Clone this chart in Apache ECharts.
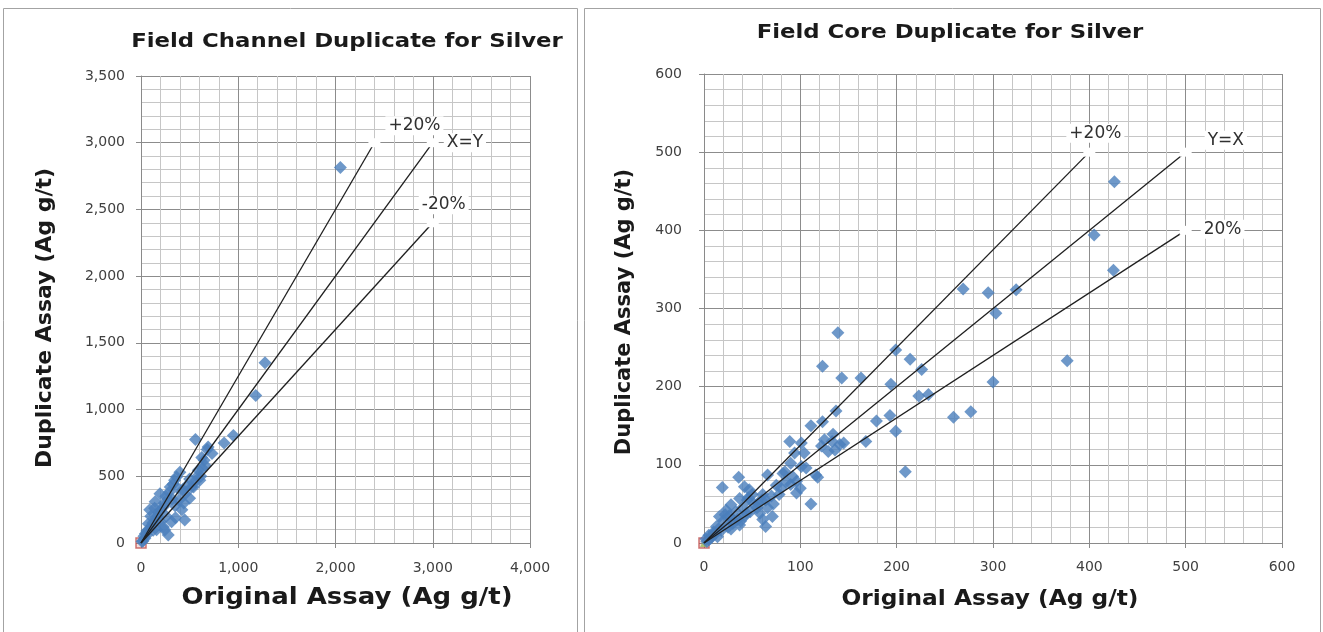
<!DOCTYPE html>
<html>
<head>
<meta charset="utf-8">
<script src="https://cdn.jsdelivr.net/npm/echarts@6/dist/echarts.min.js"></script>
<style>
  html, body { margin: 0; padding: 0; background: #ffffff; }
  #chart { width: 1323px; height: 632px; }
</style>
</head>
<body>
<div id="chart"></div>
<script>
// ---- text ----
const channelTitle = 'Field Channel Duplicate for Silver';
const coreTitle = 'Field Core Duplicate for Silver';
const xAxisTitle = 'Original Assay (Ag g/t)';
const yAxisTitle = 'Duplicate Assay (Ag g/t)';

// ---- channel samples: [original, duplicate] in Ag g/t ----
const channelPairs = [
  [2050, 2815], [1275, 1350], [1180, 1105], [950, 805], [855, 750], [560, 775],
  [690, 720], [730, 670], [625, 640], [660, 580], [615, 500], [590, 545],
  [555, 460], [520, 420], [500, 335], [455, 370], [420, 250], [400, 530],
  [365, 495], [345, 470], [300, 420], [330, 440], [290, 380], [275, 330],
  [255, 350], [230, 270], [240, 300], [200, 250], [195, 370], [180, 230],
  [145, 310], [140, 260], [120, 150], [100, 200], [90, 250], [75, 145],
  [60, 90], [45, 70], [40, 35], [30, 50], [20, 15], [10, 12],
  [315, 160], [355, 190], [280, 60], [245, 97], [160, 100], [200, 160],
  [125, 95], [260, 200], [440, 300], [540, 420], [580, 500], [630, 560],
  [605, 470], [470, 430], [390, 320], [350, 280], [450, 172], [230, 120],
  [170, 200], [110, 130], [60, 60], [80, 100], [150, 190], [320, 330],
  [500, 480], [650, 620], [680, 700], [430, 400], [380, 410]
];

// ---- core samples: [original, duplicate] in Ag g/t ----
const corePairs = [
  [426, 462], [405, 394], [425, 349], [269, 325], [295, 320], [324, 324],
  [303, 294], [377, 233], [300, 206], [277, 168], [259, 161],
  [139, 269], [199, 247], [214, 235], [123, 226], [226, 222], [143, 211],
  [163, 211], [194, 203], [223, 188], [233, 190],
  [137, 169], [193, 163], [179, 156], [199, 143], [168, 130], [209, 91],
  [111, 150], [123, 155], [89, 130], [101, 128], [125, 132], [134, 139],
  [141, 126], [129, 117], [122, 124], [136, 119], [145, 128], [133, 130],
  [94, 115], [90, 102], [101, 98], [104, 115], [106, 96], [116, 87],
  [118, 84], [82, 89], [96, 79], [96, 64], [111, 50], [100, 70], [92, 85],
  [36, 84], [19, 71], [66, 87], [84, 91], [75, 74], [78, 62], [61, 62],
  [56, 51], [37, 57], [28, 49], [23, 42], [44, 38], [61, 30], [64, 21],
  [71, 34], [37, 23], [30, 30], [16, 34], [13, 21], [5, 10], [2, 5],
  [42, 72], [47, 68], [50, 62], [45, 55], [52, 50], [40, 45], [33, 40],
  [26, 35], [20, 28], [22, 36], [30, 25], [15, 18], [10, 14], [8, 9],
  [12, 12], [18, 16], [25, 20], [35, 30], [48, 40], [55, 45], [60, 55],
  [70, 60], [80, 70], [85, 78], [72, 50], [66, 45], [90, 75], [5, 4],
  [3, 2], [7, 6], [9, 11], [14, 8], [28, 18], [38, 28], [42, 34],
  [58, 38], [64, 55], [46, 58]
];

// ---- reference lines through the origin: [label, end original, end duplicate] ----
const channelLines = [['+20%', 2400, 3000], ['X=Y', 3000, 3000], ['-20%', 3000, 2400]];
const coreLines = [['+20%', 400, 500], ['Y=X', 500, 500], ['20%', 500, 400]];

// ---- axis ranges: [min, max, major step] ----
const channelXRange = [0, 4000, 1000];
const channelYRange = [0, 3500, 500];
const coreXRange = [0, 600, 100];
const coreYRange = [0, 600, 100];

const FONT = 'DejaVu Sans, Verdana, sans-serif';
const BLUE = '#4a7ebb';

const withComma = v => Number(v).toLocaleString('en-US');

function valueAxis(range, gridIndex, fmt, margin) {
  return {
    type: 'value', gridIndex,
    min: range[0], max: range[1], interval: range[2],
    axisLine: { show: true, onZero: false, lineStyle: { color: '#8a8a8a', width: 1 } },
    axisTick: { show: true, inside: false, length: 5, lineStyle: { color: '#8a8a8a' } },
    axisLabel: { color: '#404040', fontFamily: FONT, fontSize: 14, formatter: fmt, margin },
    splitLine: { show: true, lineStyle: { color: '#8c8c8c', width: 1 } },
    minorTick: { show: false, splitNumber: 5 },
    minorSplitLine: { show: true, lineStyle: { color: '#c6c6c6', width: 1 } }
  };
}

function refLine(line, gi, offset) {
  return {
    type: 'line', xAxisIndex: gi, yAxisIndex: gi,
    silent: true, animation: false, z: 4,
    symbol: 'rect', symbolSize: [12, 9],
    itemStyle: { color: '#ffffff' },
    lineStyle: { color: '#1f1f1f', width: 1.3 },
    data: [
      { value: [0, 0], symbolSize: 0 },
      {
        value: [line[1], line[2]],
        label: {
          show: true, formatter: line[0], position: 'right', offset,
          color: '#303030', fontFamily: FONT, fontSize: 17,
          backgroundColor: '#ffffff', padding: [1, 3]
        }
      }
    ]
  };
}

function scatter(pairs, gi) {
  return {
    type: 'scatter', xAxisIndex: gi, yAxisIndex: gi, z: 3,
    symbol: 'diamond', symbolSize: 13,
    itemStyle: { color: BLUE },
    data: pairs
  };
}

function originMarks(gi, withTriangle) {
  const out = [{
    type: 'scatter', xAxisIndex: gi, yAxisIndex: gi, z: 2,
    symbol: 'rect', symbolSize: 10,
    itemStyle: { color: 'rgba(192,80,77,0.25)', borderColor: '#c0504d', borderWidth: 1.5 },
    data: [[0, 0]]
  }];
  if (withTriangle) {
    out.push({
      type: 'scatter', xAxisIndex: gi, yAxisIndex: gi, z: 2,
      symbol: 'triangle', symbolSize: 8,
      itemStyle: { color: '#9bbb59' },
      data: [[0, 0]]
    });
  }
  return out;
}

// bold centred caption, optionally widened and rotated
function caption(text, x, y, fontSize, scaleX, vertical) {
  return {
    type: 'text', x, y, scaleX: vertical ? 1 : scaleX,
    rotation: vertical ? Math.PI / 2 : 0, silent: true,
    style: {
      text, fontFamily: FONT, fontSize, fontWeight: 'bold', fill: '#1a1a1a',
      textAlign: 'center', textVerticalAlign: 'middle'
    }
  };
}

const chart = echarts.init(document.getElementById('chart'), null, { renderer: 'canvas' });

const channelLabelOffsets = [[0, -17], [0, 0], [-25, -18]];
const coreLabelOffsets = [[-34, -19], [8, -12], [4, -1]];

const option = {
  animation: false,
  backgroundColor: '#ffffff',
  grid: [
    { left: 141, top: 76, width: 389, height: 467 },
    { left: 704, top: 74, width: 578, height: 469 }
  ],
  xAxis: [
    valueAxis(channelXRange, 0, withComma, 18),
    valueAxis(coreXRange, 1, v => String(v), 17)
  ],
  yAxis: [
    valueAxis(channelYRange, 0, withComma, 16),
    valueAxis(coreYRange, 1, v => String(v), 22)
  ],
  series: [
    ...originMarks(0, false),
    scatter(channelPairs, 0),
    ...channelLines.map((l, i) => refLine(l, 0, channelLabelOffsets[i])),
    ...originMarks(1, true),
    scatter(corePairs, 1),
    ...coreLines.map((l, i) => refLine(l, 1, coreLabelOffsets[i]))
  ],
  graphic: [
    { type: 'rect', shape: { x: 3.5, y: 8.5, width: 574, height: 640 },
      style: { fill: 'none', stroke: '#a3a3a3', lineWidth: 1 }, silent: true },
    { type: 'rect', shape: { x: 584.5, y: 8.5, width: 736, height: 640 },
      style: { fill: 'none', stroke: '#a3a3a3', lineWidth: 1 }, silent: true },
    caption(channelTitle, 347, 42, 20, 1.14, false),
    caption(coreTitle, 950, 33, 20, 1.14, false),
    caption(xAxisTitle, 347, 598, 23, 1.13, false),
    caption(xAxisTitle, 990, 600, 21, 1.11, false),
    caption(yAxisTitle, 45, 318, 22, 1, true),
    caption(yAxisTitle, 625, 312, 21, 1, true)
  ]
};

chart.setOption(option);
</script>
</body>
</html>
